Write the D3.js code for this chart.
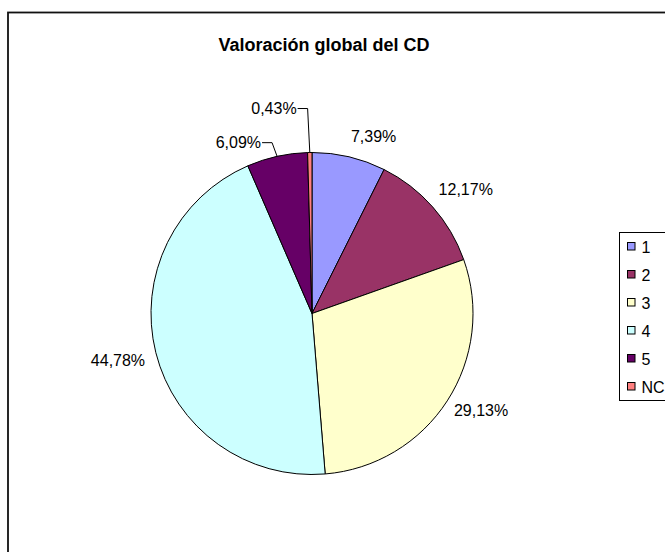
<!DOCTYPE html>
<html>
<head>
<meta charset="utf-8">
<script src="https://cdn.jsdelivr.net/npm/d3@7"></script>
<style>
body { margin:0; background:#fff; }
text { font-family: "Liberation Sans", Arial, sans-serif; }
</style>
</head>
<body>
<svg></svg>
<script>
// data (230 answers)
var categories = ["1","2","3","4","5","NC"]
var counts = [17, 28, 67, 103, 14, 1]
var percentLabels = ["7,39%","12,17%","29,13%","44,78%","6,09%","0,43%"]
var colors = ["#9999FF","#993366","#FFFFCC","#CCFFFF","#660066","#FF8080"]
var title = "Valoración global del CD"

var screen = {width:665, height:552}
var center = {x:312, y:313.5}
var radius = 161

var svg = d3.select("svg")
    .attr("width",screen.width)
    .attr("height",screen.height)

// chart area border
svg.append("rect")
    .attr("x",8)
    .attr("y",12.5)
    .attr("width",720)
    .attr("height",700)
    .attr("fill","none")
    .attr("stroke","#111")
    .attr("stroke-width",1.8)

svg.append("text")
    .attr("x",324)
    .attr("y",51)
    .attr("text-anchor","middle")
    .attr("font-size",18)
    .attr("font-weight","bold")
    .text(title)

var pie = d3.pie().sort(null).value(function(d){ return d })
var arcs = pie(counts)
var arc = d3.arc().innerRadius(0).outerRadius(radius)

var g = svg.append("g")
    .attr("transform","translate("+center.x+","+center.y+")")

g.selectAll("path")
    .data(arcs)
    .enter()
    .append("path")
    .attr("d",arc)
    .attr("fill",function(d,i){ return colors[i] })
    .attr("stroke","#000")
    .attr("stroke-width",1)

// labels: big slices sit just outside the rim, small ones get a leader line
var fontSize = 16
var total = d3.sum(counts)
var leaderCount = 0

arcs.forEach(function(d,i)
{
    var a = (d.startAngle + d.endAngle)/2
    var s = Math.sin(a), c = Math.cos(a)
    var share = d.value/total
    if (share > 0.07)
    {
        var px = (radius+8)*s + (s > 0 ? 0 : -3)
        var py = -(radius+8)*c
        g.append("text")
            .attr("x",px)
            .attr("y",py + (c > 0 ? -7 : 11))
            .attr("text-anchor", s > 0 ? "start" : "end")
            .attr("font-size",fontSize)
            .text(percentLabels[i])
    }
    else
    {
        var ex = (radius+14)*s - 2
        var ey = -(radius+14)*c - leaderCount*30
        var rimX = radius*s, rimY = -radius*c
        g.append("polyline")
            .attr("points",[[rimX,rimY],[ex,ey],[ex-10,ey]].map(function(p){ return p.join(",") }).join(" "))
            .attr("fill","none")
            .attr("stroke","#000")
            .attr("stroke-width",1)
        g.append("text")
            .attr("x",ex-11)
            .attr("y",ey+5.5)
            .attr("text-anchor","end")
            .attr("font-size",fontSize)
            .text(percentLabels[i])
        leaderCount++
    }
})

// legend
var rowH = 28
var legH = rowH*categories.length
var legend = svg.append("g")
    .attr("transform","translate(619.5,232.5)")

legend.append("rect")
    .attr("width",80)
    .attr("height",legH)
    .attr("fill","#fff")
    .attr("stroke","#000")
    .attr("stroke-width",1)

var items = legend.selectAll("g.item")
    .data(categories)
    .enter()
    .append("g")
    .attr("class","item")
    .attr("transform",function(d,i){ return "translate(0,"+(rowH*i + rowH/2)+")" })

items.append("rect")
    .attr("x",8)
    .attr("y",-4)
    .attr("width",7.5)
    .attr("height",7.5)
    .attr("fill",function(d,i){ return colors[i] })
    .attr("stroke","#000")
    .attr("stroke-width",1)

items.append("text")
    .attr("x",22)
    .attr("y",6)
    .attr("font-size",fontSize)
    .text(function(d){ return d })
</script>
</body>
</html>
